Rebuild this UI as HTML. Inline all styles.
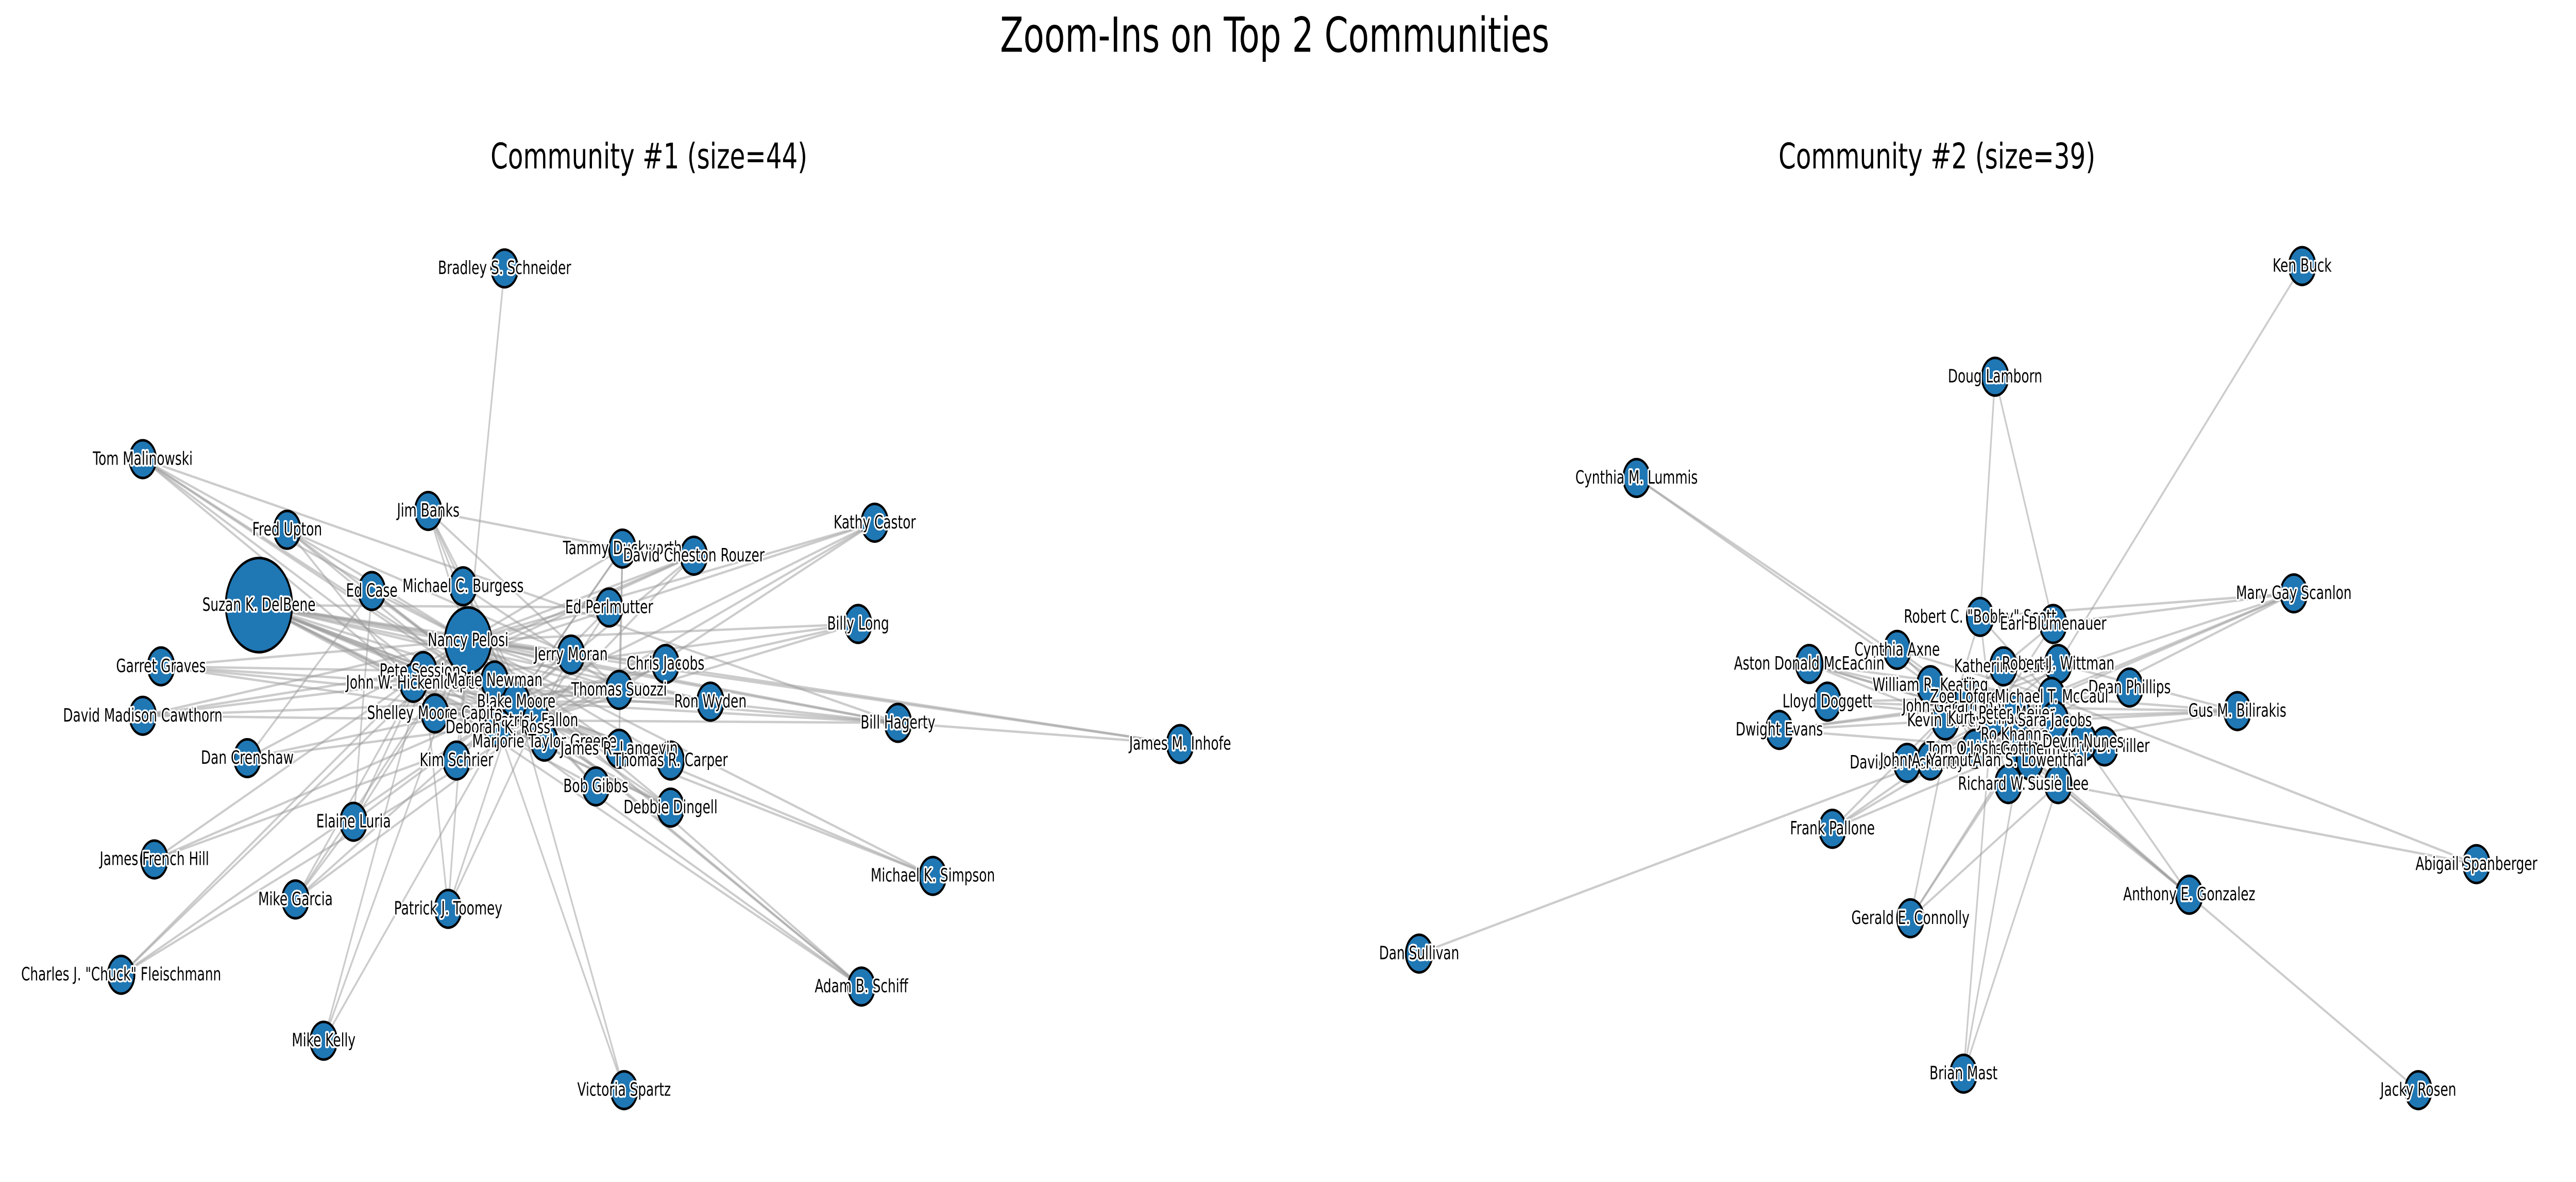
<!DOCTYPE html>
<html><head><meta charset="utf-8"><style>
html,body{margin:0;padding:0;background:#fff;width:100vw;height:100vh;overflow:hidden}
svg{display:block;position:absolute;left:0;top:0;width:100vw;height:100vh}
text{font-family:"DejaVu Sans","Liberation Sans",sans-serif}
.lbl{font-size:7.7px;fill:#000;stroke:#fff;stroke-width:1.6px;paint-order:stroke;stroke-linejoin:round;text-anchor:middle;dominant-baseline:central}
</style></head><body>
<svg id="chart" viewBox="0 0 1552 502" preserveAspectRatio="none" xmlns="http://www.w3.org/2000/svg">
<rect width="1552" height="502" fill="#fff"/>
<g>
<text x="768" y="22" font-size="20.5" text-anchor="middle">Zoom-Ins on Top 2 Communities</text>
<text x="391" y="71.5" font-size="15" text-anchor="middle">Community #1 (size=44)</text>
<text x="1167" y="71.5" font-size="15" text-anchor="middle">Community #2 (size=39)</text>
<g id="g1"></g>
<g id="g2"></g>
</g>
</svg>
<script>
const names1 = ["Bradley S. Schneider","Tom Malinowski","Fred Upton","Jim Banks","Suzan K. DelBene","Ed Case","Michael C. Burgess","Tammy Duckworth","David Cheston Rouzer","Kathy Castor","Ed Perlmutter","Billy Long","Garret Graves","Nancy Pelosi","Jerry Moran","Pete Sessions","Chris Jacobs","John W. Hickenlooper","Marie Newman","David Madison Cawthorn","Blake Moore","Thomas Suozzi","Ron Wyden","Bill Hagerty","James M. Inhofe","Shelley Moore Capito","Patrick Fallon","Deborah K. Ross","Marjorie Taylor Greene","James R. Langevin","Thomas R. Carper","Dan Crenshaw","Kim Schrier","Bob Gibbs","Debbie Dingell","Elaine Luria","James French Hill","Michael K. Simpson","Mike Garcia","Patrick J. Toomey","Charles J. \"Chuck\" Fleischmann","Adam B. Schiff","Mike Kelly","Victoria Spartz"];
const xs1 = [304,86,173,258,156,224,279,375,418,527,367,517,97,282,344,255,401,249,298,86,311,373,428,541,711,262,323,300,328,373,404,149,275,359,404,213,93,562,178,270,73,519,195,376];
const ys1 = [114,195,225,217,257,251,249,233,236,222,258,265,283,272,278,285,282,290,289,304,298,293,298,307,316,303,306,309,315,318,323,322,323,334,343,349,365,372,382,386,414,419,442,463];
const sizes1 = [1,1,1,1,6,1,1,1,1,1,1,1,1,3,1,1,1,1,1,1,1,1,1,1,1,1,1,1,1,1,1,1,1,1,1,1,1,1,1,1,1,1,1,1];
const adj1 = ["0:13","1:13,15,17,20,26","2:13,14,20,25,28","3:13,18,20,21,26,7","4:13,15,17,20,26,14,21,10,29,27,18","5:13,20,26,35,31","6:13,20,28,21","7:13,20,21,27,29","8:13,15,20,26,17","9:13,20,26,15,21","10:13,20,26","11:13,20,26,17","12:13,20,15,26,22","14:13,20,26","15:13,20,26","16:13,20,26","17:13,20,26","18:13,20,26","19:13,15,17,20,26","21:13,20,26","22:13,20,4","23:13,20,15,26,17,1,4","24:23,13,4","25:13,20,26","27:13,20,26","28:13,20,26","29:13,20,26","30:13,20,26,4","31:13,20,26","32:13,20","33:13,20,4","34:13,4,17,15,20","35:13,20,15","36:13,20,26","37:13,20,26","38:13,15,20,26,35","39:13,20,26,15","40:13,20,15,26","41:13,20,15,26,17","42:13,20,15","43:13,20"];

const names2 = ["Ken Buck","Doug Lamborn","Cynthia M. Lummis","Robert C. \"Bobby\" Scott","Earl Blumenauer","Mary Gay Scanlon","Aston Donald McEachin","Cynthia Axne","Katherine Clark","Robert J. Wittman","William R. Keating","Dean Phillips","Gus M. Bilirakis","Lloyd Doggett","John Garamendi","Zoe Lofgren","Michael T. McCaul","Dwight Evans","Kevin Brady","Kurt Schrader","Peter Meijer","Sara Jacobs","Ro Khanna","Tom O'Halleran","Josh Gottheimer","Carol D. Miller","David B. McKinley","John A. Yarmuth","Alan S. Lowenthal","Richard W. Neal","Susie Lee","Frank Pallone","Anthony E. Gonzalez","Abigail Spanberger","Gerald E. Connolly","Dan Sullivan","Brian Mast","Jacky Rosen","Devin Nunes"];
const xs2 = [1387,1202,986,1193,1237,1382,1090,1143,1207,1240,1163,1283,1348,1101,1177,1186,1236,1072,1172,1200,1215,1238,1214,1190,1218,1268,1149,1163,1223,1210,1240,1104,1319,1492,1151,855,1183,1457,1255];
const ys2 = [113,160,203,262,265,252,282,276,283,282,291,292,302,298,300,296,296,310,306,305,303,306,312,318,318,317,324,323,323,333,333,352,380,367,390,405,456,463,315];
const adj2 = ["0:9","1:3,4","2:22,24","3:16,14,19","4:16,14,19","5:3,4,16,14,19,22","6:16,14,19,21,24","7:16,14,19","8:16,14,19","9:16,14,19","10:16,14,19","11:16,14,19","12:16,14,19,21,9,27","13:16,14,19","15:16,14,19","17:16,14,19,24","18:16,14,19","20:16,14,19","21:16,14,19","22:16,14,19","23:16,14,19","24:16,14,19","25:16,14,19","26:16,14,19","27:16,14,19","28:16,14,19","29:16,14,19","30:16,14,19","31:16,14,27,24","32:16,30,14,24","33:16,30","34:16,14,24,30","35:27","36:19,24,30","37:30","38:16,14"];

const NS="http://www.w3.org/2000/svg";
function draw(gid, names, xs, ys, sizes, adj, prefix){
  const g=document.getElementById(gid);
  const eg=document.createElementNS(NS,"g");
  
  
  g.appendChild(eg);
  adj.forEach(s=>{
    const [a,rest]=s.split(":");
    rest.split(",").forEach(b=>{
      const i=+a,j=+b;
      const l=document.createElementNS(NS,"line");
      l.setAttribute("x1",xs[i]);l.setAttribute("y1",ys[i]);
      l.setAttribute("x2",xs[j]);l.setAttribute("y2",ys[j]);
      l.setAttribute("stroke","#999");l.setAttribute("stroke-opacity","0.5");l.setAttribute("stroke-width","1");
      
      
      eg.appendChild(l);
    });
  });
  const ng=document.createElementNS(NS,"g");
  
  
  g.appendChild(ng);
  names.forEach((n,i)=>{
    const s=sizes?sizes[i]:1;
    const r=s===6?20:(s===3?14:8);
    const c=document.createElementNS(NS,"circle");
    c.setAttribute("cx",xs[i]);c.setAttribute("cy",ys[i]);c.setAttribute("r",r);
    c.setAttribute("fill","#1f77b4");c.setAttribute("stroke","#000");c.setAttribute("stroke-width","1.1");
    
    
    ng.appendChild(c);
  });
  const lg=document.createElementNS(NS,"g");
  
  
  g.appendChild(lg);
  names.forEach((n,i)=>{
    const t=document.createElementNS(NS,"text");
    t.setAttribute("x",xs[i]);t.setAttribute("y",ys[i]);
    t.setAttribute("class","lbl");
    t.textContent=n;
    
    
    lg.appendChild(t);
  });
}
draw("g1",names1,xs1,ys1,sizes1,adj1,"community-1");
draw("g2",names2,xs2,ys2,null,adj2,"community-2");
</script>
</body></html>
